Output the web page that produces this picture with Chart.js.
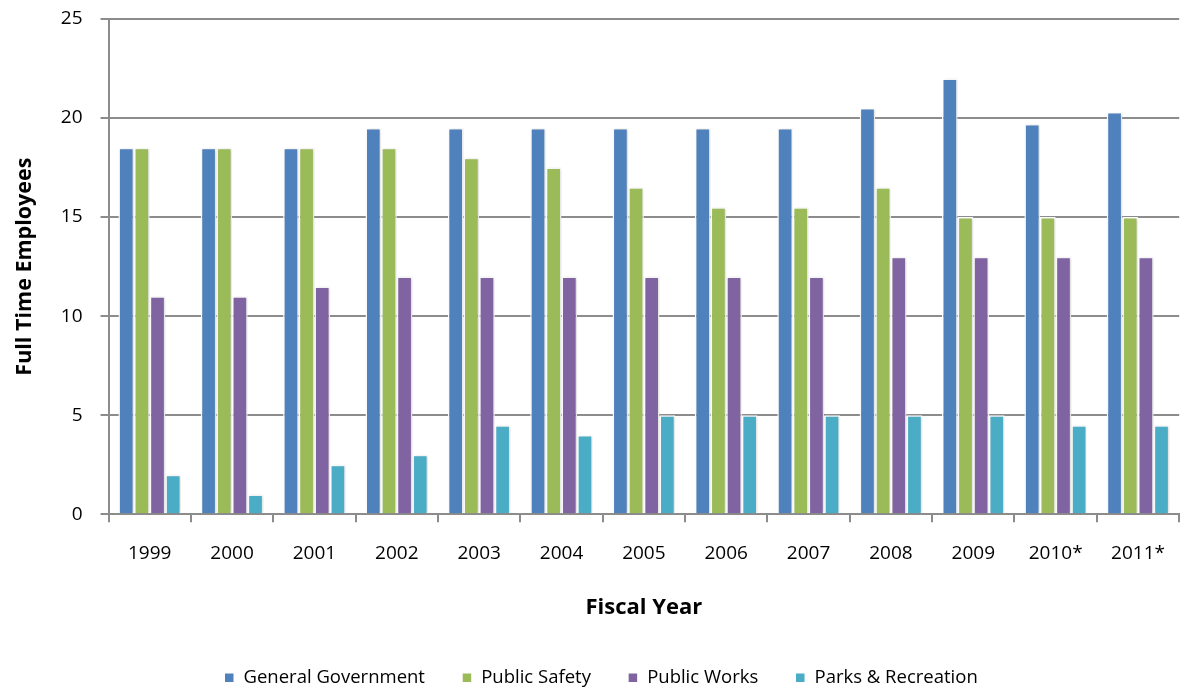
<!DOCTYPE html>
<html>
<head>
<meta charset="utf-8">
<script src="https://cdn.jsdelivr.net/npm/chart.js@4"></script>
<style>
  html, body { margin: 0; padding: 0; background: #fff; overflow: hidden; }
  #wrap { width: 1185px; height: 688px; }
</style>
</head>
<body>
<div id="wrap"><canvas id="fteChart" width="1185" height="688"></canvas></div>
<script>
// fiscal years on the x axis
const years = ['1999', '2000', '2001', '2002', '2003', '2004', '2005', '2006', '2007', '2008', '2009', '2010*', '2011*'];

// full time employees per department
const generalGovernment = [18.5, 18.5, 18.5, 19.5, 19.5, 19.5, 19.5, 19.5, 19.5, 20.5, 22, 19.7, 20.3];
const publicSafety      = [18.5, 18.5, 18.5, 18.5, 18, 17.5, 16.5, 15.5, 15.5, 16.5, 15, 15, 15];
const publicWorks       = [11, 11, 11.5, 12, 12, 12, 12, 12, 12, 13, 13, 13, 13];
const parksRecreation   = [2, 1, 2.5, 3, 4.5, 4, 5, 5, 5, 5, 5, 4.5, 4.5];

const yTicks = [0, 5, 10, 15, 20, 25];

const FONT = "'Open Sans', sans-serif";

// soft shadow behind the bars, like the office chart
const barShadow = {
  id: 'barShadow',
  beforeDatasetsDraw(chart) {
    const ctx = chart.ctx;
    ctx.save();
    ctx.shadowColor = 'rgba(0,0,0,0.18)';
    ctx.shadowBlur = 3;
    ctx.shadowOffsetX = 1;
    ctx.shadowOffsetY = 0;
  },
  afterDatasetsDraw(chart) {
    chart.ctx.restore();
  }
};

function makeSet(label, data, color) {
  return {
    label: label,
    data: data,
    backgroundColor: color,
    borderColor: '#ffffff',
    borderWidth: 1.5,
    categoryPercentage: 0.76,
    barPercentage: 1.0
  };
}

document.addEventListener('DOMContentLoaded', () => {
  const ctx = document.getElementById('fteChart').getContext('2d');

  new Chart(ctx, {
    type: 'bar',
    data: {
      labels: years,
      datasets: [
        makeSet('General Government', generalGovernment, '#4f81bd'),
        makeSet('Public Safety', publicSafety, '#9bbb59'),
        makeSet('Public Works', publicWorks, '#8064a2'),
        makeSet('Parks & Recreation', parksRecreation, '#4bacc6')
      ]
    },
    options: {
      responsive: false,
      animation: false,
      layout: { padding: { top: 0, right: -5, left: 12, bottom: -9 } },
      plugins: {
        tooltip: { enabled: false },
        legend: {
          position: 'bottom',
          labels: {
            boxWidth: 10,
            boxHeight: 10,
            padding: 37,
            color: '#000',
            font: { family: FONT, size: 18.5 }
          }
        }
      },
      scales: {
        x: {
          border: { display: true, color: '#8c8c8c', width: 2 },
          grid: { display: true, drawOnChartArea: false, drawTicks: true, tickLength: 8, color: '#8c8c8c', lineWidth: 2 },
          ticks: { color: '#000', padding: 20, font: { family: FONT, size: 19 } },
          title: { display: true, text: 'Fiscal Year', color: '#000', padding: { top: 9, bottom: 11 }, font: { family: FONT, size: 22, weight: 'bold' } }
        },
        y: {
          min: 0,
          max: 25,
          afterBuildTicks(axis) {
            axis.ticks = yTicks.map(v => ({ value: v }));
          },
          border: { display: true, color: '#8c8c8c', width: 2 },
          grid: { color: '#8c8c8c', lineWidth: 2, tickLength: 8 },
          // small lineHeight so the label padding does not push the plot top down
          ticks: { color: '#000', padding: 18, font: { family: FONT, size: 19, lineHeight: 0.1 } },
          title: { display: true, text: 'Full Time Employees', color: '#000', padding: { top: 0, bottom: 5 }, font: { family: FONT, size: 21.5, weight: 'bold' } }
        }
      }
    },
    plugins: [barShadow]
  });
});
</script>
</body>
</html>
